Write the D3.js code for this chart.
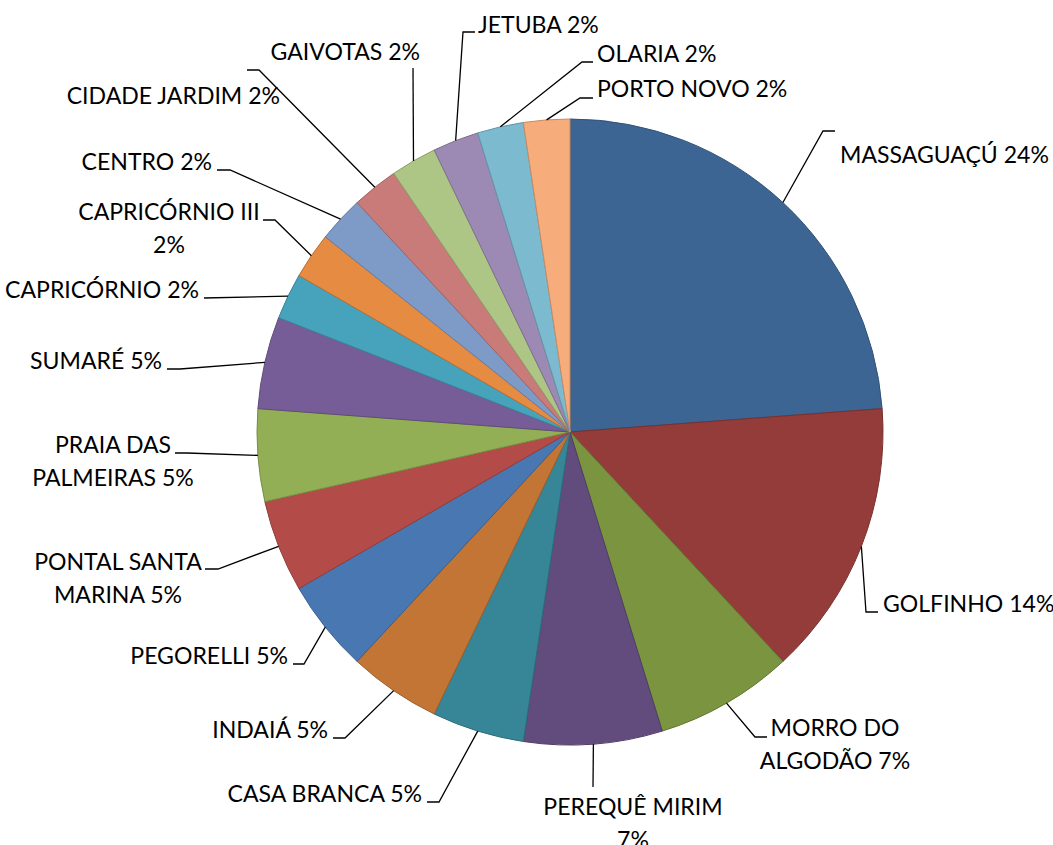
<!DOCTYPE html>
<html>
<head>
<meta charset="utf-8">
<script src="https://cdn.jsdelivr.net/npm/d3@7"></script>
<style>
  html, body { margin: 0; padding: 0; background: #fff; }
  svg { display: block; }
</style>
</head>
<body>
<svg id="chart" width="1053" height="845"></svg>
<script>
// ---- data ----
const categories = [
  "MASSAGUAÇÚ", "GOLFINHO", "MORRO DO ALGODÃO", "PEREQUÊ MIRIM", "CASA BRANCA",
  "INDAIÁ", "PEGORELLI", "PONTAL SANTA MARINA", "PRAIA DAS PALMEIRAS", "SUMARÉ",
  "CAPRICÓRNIO", "CAPRICÓRNIO III", "CENTRO", "CIDADE JARDIM", "GAIVOTAS",
  "JETUBA", "OLARIA", "PORTO NOVO"
];
const counts = [10, 6, 3, 3, 2, 2, 2, 2, 2, 2, 1, 1, 1, 1, 1, 1, 1, 1];
const colors = [
  "#3D6594", "#943C3A", "#7A9440", "#624C7D", "#368697",
  "#C27535", "#4877B1", "#B34B48", "#92AF56", "#775D97",
  "#46A3BB", "#E68B42", "#7E9BC8", "#C97B7A", "#ADC585",
  "#9C8AB4", "#7BBACF", "#F7AC7B"
];
// words on first line when the label wraps (0 = single line)
const wrapWords = [0, 0, 2, 2, 0, 0, 0, 2, 2, 0, 0, 2, 0, 0, 0, 0, 0, 0];

// ---- label layout (offsets from pie centre): bend point, end of horizontal, text anchor ----
const labelLayout = [
  {bx: 253, by: -301, ex: 265, tx: 270, ty: -269, a: "start"},
  {bx: 296, by: 180, ex: 308, tx: 313, ty: 180, a: "start"},
  {bx: 185, by: 305, ex: 197, tx: 265, ty: 304, a: "middle"},
  {bx: 23, by: 355, ex: 23, tx: 63, ty: 383, a: "middle"},
  {bx: -131, by: 370, ex: -143, tx: -148, ty: 370, a: "end"},
  {bx: -225, by: 306, ex: -237, tx: -242, ty: 306, a: "end"},
  {bx: -266, by: 232, ex: -277, tx: -282, ty: 232, a: "end"},
  {bx: -352, by: 137, ex: -365, tx: -452, ty: 138, a: "middle"},
  {bx: -383, by: 21, ex: -395, tx: -457, ty: 21, a: "middle"},
  {bx: -390, by: -63, ex: -403, tx: -408, ty: -63, a: "end"},
  {bx: -366, by: -134, ex: -366, tx: -371, ty: -134, a: "end"},
  {bx: -295, by: -212, ex: -307, tx: -401, ty: -212, a: "middle"},
  {bx: -340, by: -262, ex: -353, tx: -358, ty: -262, a: "end"},
  {bx: -311, by: -362, ex: -323, tx: -290, ty: -328, a: "end"},
  {bx: -157, by: -364, ex: -157, tx: -150, ty: -372, a: "end"},
  {bx: -107, by: -400, ex: -95, tx: -92, ty: -399, a: "start"},
  {bx: 12, by: -370, ex: 23, tx: 27, ty: -370, a: "start"},
  {bx: 10, by: -334, ex: 23, tx: 27, ty: -335, a: "start"}
];

const cx = 570, cy = 432, R = 313, lineH = 33;
const fontFamily = "Lato, 'Open Sans', 'DejaVu Sans', sans-serif";

const svg = d3.select("#chart");
const g = svg.append("g").attr("transform", `translate(${cx},${cy})`);

const total = d3.sum(counts);
const fmt = d3.format(".0%");
const data = categories.map((c, i) => ({
  name: c, value: counts[i], color: colors[i], wrap: wrapWords[i], layout: labelLayout[i]
}));

const pie = d3.pie().value(d => d.value).sort(null);
const arcs = pie(data);
const arc = d3.arc().innerRadius(0).outerRadius(R);
const edgeArc = d3.arc().innerRadius(R).outerRadius(R);

g.selectAll("path.slice").data(arcs).enter().append("path")
  .attr("class", "slice")
  .attr("d", arc)
  .attr("fill", d => d.data.color)
  .attr("stroke", d => d3.color(d.data.color).darker(0.6))
  .attr("stroke-width", 1)
  .attr("stroke-linejoin", "round");

// font size fitted so the longest single label matches the reference width
const probe = svg.append("text").attr("font-family", fontFamily).attr("font-size", 100)
  .text("MASSAGUAÇÚ 24%");
const w100 = probe.node().getComputedTextLength();
probe.remove();
const fontSize = Math.min(26, 100 * 209 / w100);

// leader lines
g.selectAll("path.leader").data(arcs).enter().append("path")
  .attr("class", "leader")
  .attr("d", d => {
    const p = edgeArc.centroid(d);
    const L = d.data.layout;
    return d3.line()([p, [L.bx, L.by], [L.ex, L.by]]);
  })
  .attr("fill", "none")
  .attr("stroke", "#000")
  .attr("stroke-width", 1.3);

// labels
const labels = g.selectAll("text.lbl").data(arcs).enter().append("text")
  .attr("class", "lbl")
  .attr("font-family", fontFamily)
  .attr("font-size", fontSize)
  .attr("fill", "#000")
  .attr("text-anchor", d => d.data.layout.a);

labels.each(function(d) {
  const full = d.data.name + " " + fmt(d.value / total);
  const words = full.split(" ");
  const lines = d.data.wrap > 0
    ? [words.slice(0, d.data.wrap).join(" "), words.slice(d.data.wrap).join(" ")]
    : [full];
  const t = d3.select(this);
  lines.forEach((ln, k) => {
    t.append("tspan")
      .attr("x", d.data.layout.tx)
      .attr("y", d.data.layout.ty + k * lineH)
      .text(ln);
  });
});
</script>
</body>
</html>
